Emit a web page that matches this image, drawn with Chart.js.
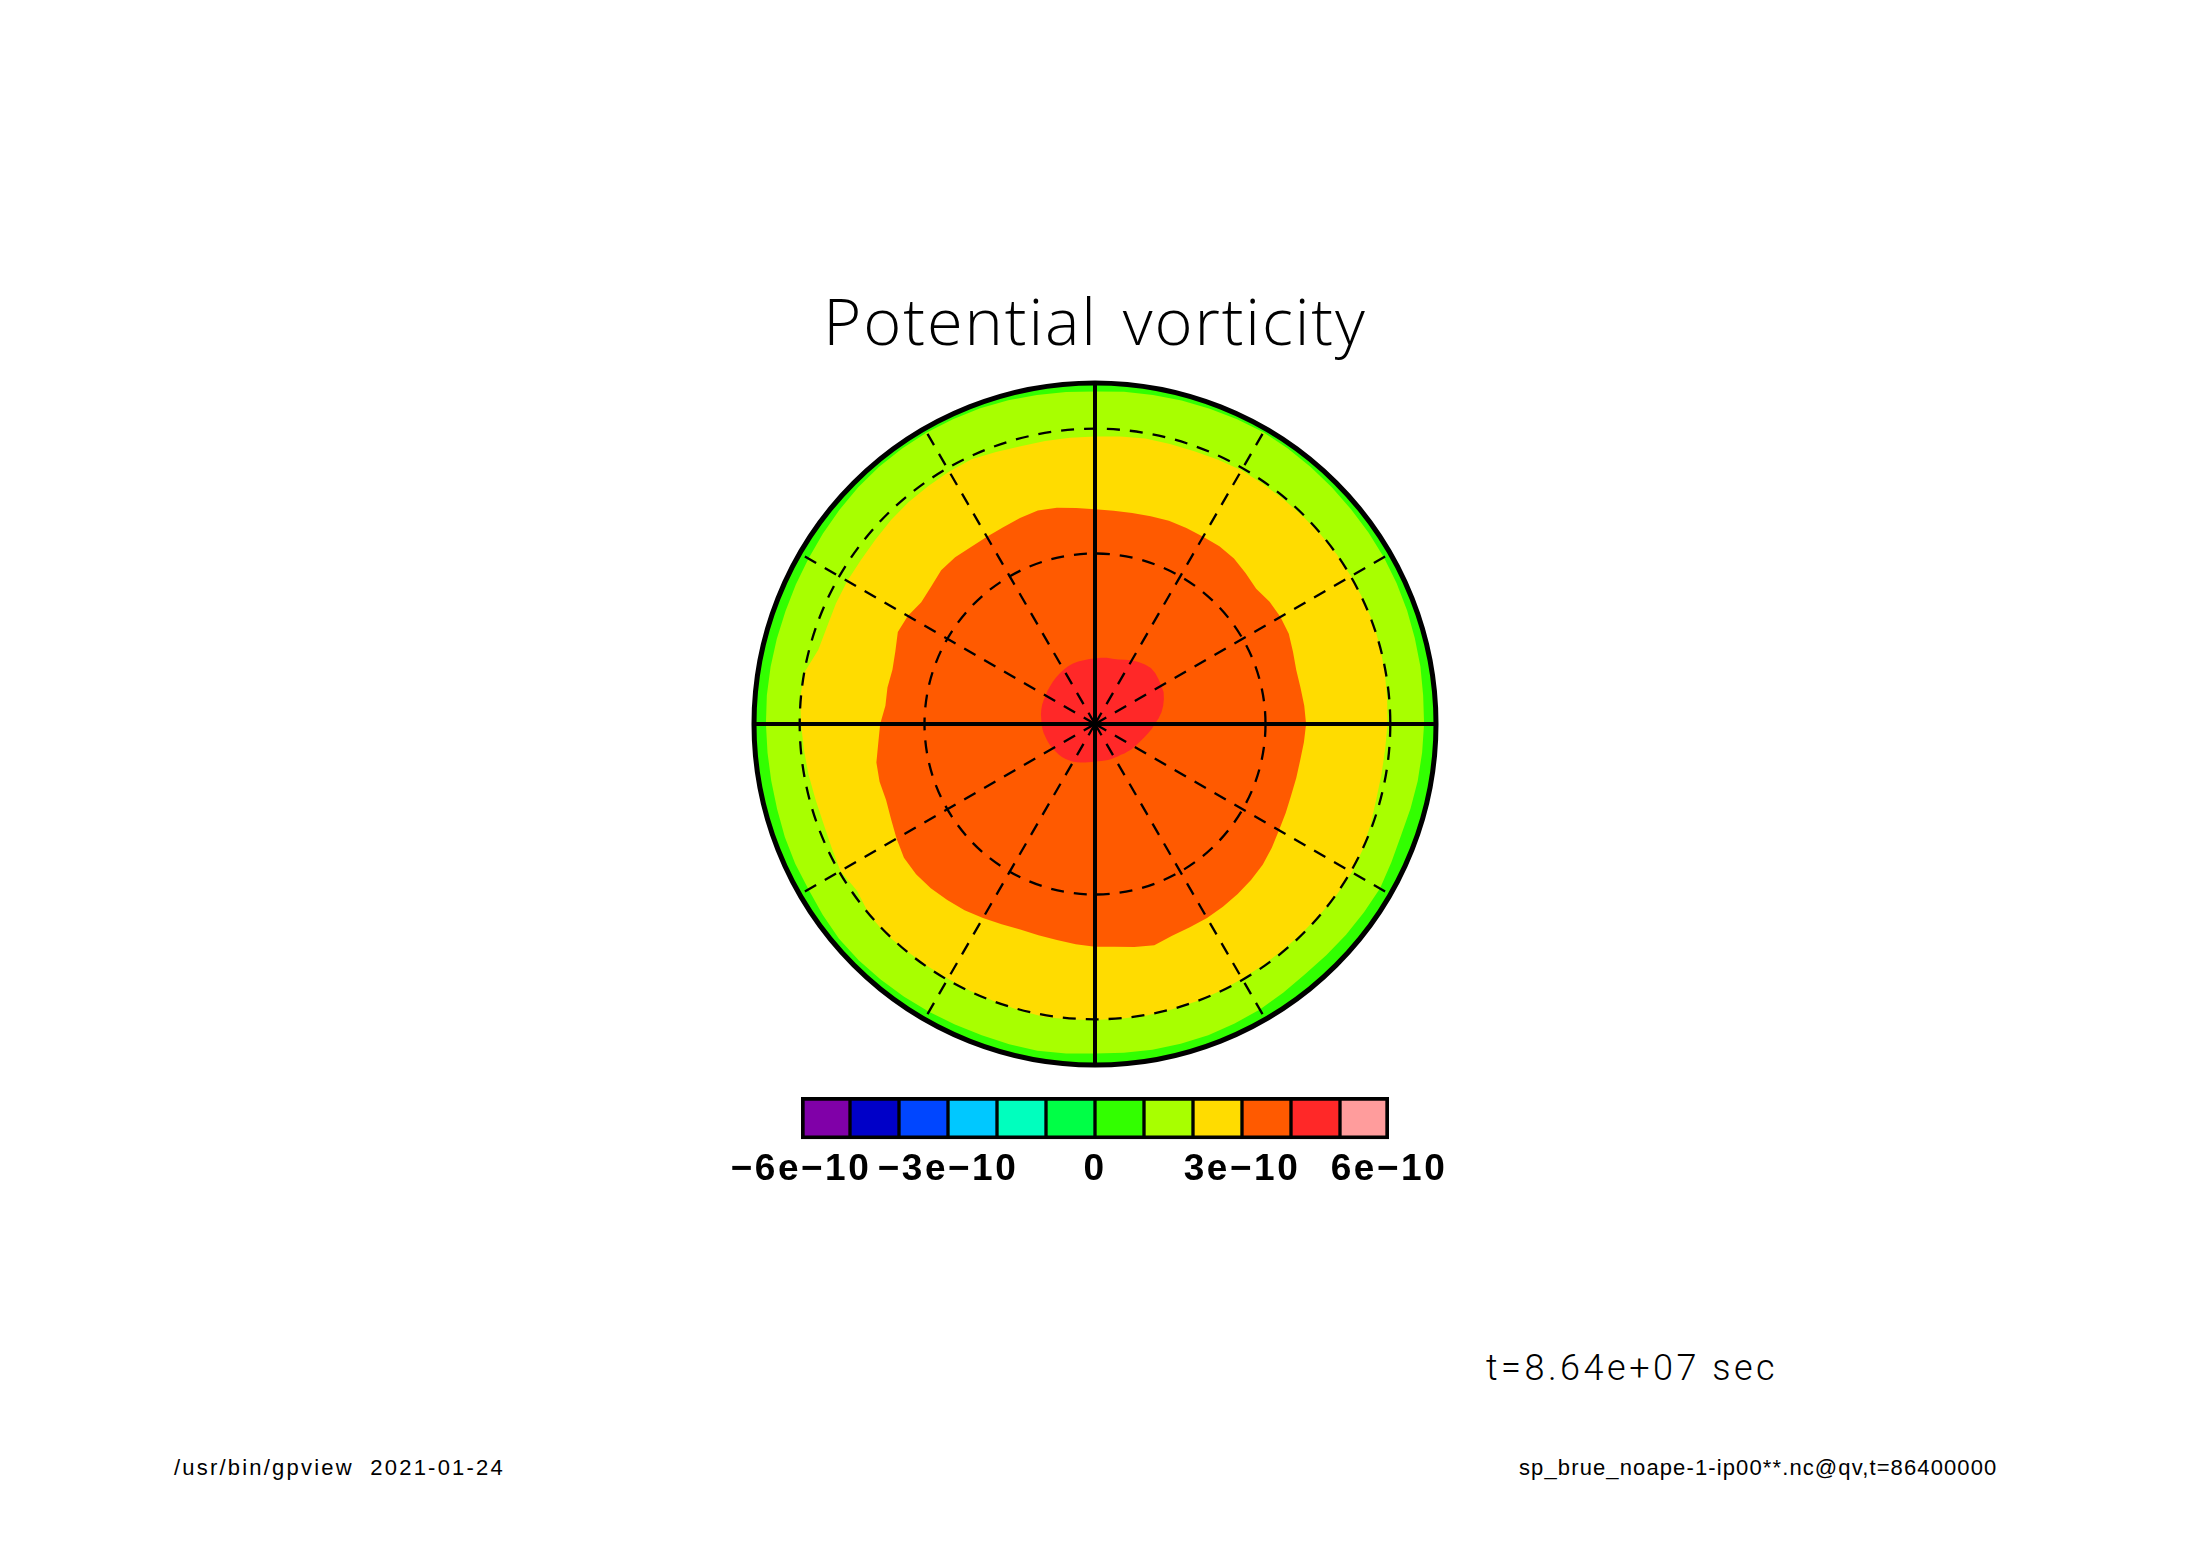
<!DOCTYPE html>
<html>
<head>
<meta charset="utf-8">
<title>Potential vorticity</title>
<script src="https://cdn.jsdelivr.net/npm/chart.js@4"></script>
<style>
    html, body { margin: 0; padding: 0; background: #fff; }
    body { position: relative; width: 2188px; height: 1546px; overflow: hidden; }
    canvas { position: absolute; }
    .note { position: absolute; color: #000; white-space: pre; font-family: "Liberation Sans", sans-serif; }
</style>
</head>
<body>
<canvas id="polar-chart" width="2188" height="1070" style="left:0;top:0"></canvas>
<canvas id="colorbar-chart" width="800" height="120" style="left:700px;top:1085px"></canvas>
<div class="note" style="left:1486px;top:1347px;font-size:36px;font-weight:300;font-family:Roboto;letter-spacing:3.5px">t=8.64e+07 sec</div>
<div class="note" style="left:174px;top:1455px;font-size:22px;letter-spacing:2.2px">/usr/bin/gpview  2021-01-24</div>
<div class="note" style="left:1519px;top:1455px;font-size:22px;letter-spacing:1.12px">sp_brue_noape-1-ip00**.nc@qv,t=86400000</div>
<script>
// angle clockwise from the top of the plot, every 5 degrees
const angles = [0, 5, 10, 15, 20, 25, 30, 35, 40, 45, 50, 55, 60, 65, 70, 75, 80, 85,
    90, 95, 100, 105, 110, 115, 120, 125, 130, 135, 140, 145, 150, 155, 160, 165, 170, 175,
    180, 185, 190, 195, 200, 205, 210, 215, 220, 225, 230, 235, 240, 245, 250, 255, 260, 265,
    270, 275, 280, 285, 290, 295, 300, 305, 310, 315, 320, 325, 330, 335, 340, 345, 350, 355];

// contour edges, as distance from the pole (rim of the disc = 1)
const edge1e10 = [1, 1, 1, 1, 1, 1, 1, 1, 1, 1, 1, 1, 1, 1, 1, 1, 1, 1,
    1, 1, 1, 1, 1, 1, 1, 1, 1, 1, 1, 1, 1, 1, 1, 1, 1, 1,
    1, 1, 1, 1, 1, 1, 1, 1, 1, 1, 1, 1, 1, 1, 1, 1, 1, 1,
    1, 1, 1, 1, 1, 1, 1, 1, 1, 1, 1, 1, 1, 1, 1, 1, 1, 1];
const edge2e10 = [.975, .978, .980, .982, .984, .986, .988, .986, .984, .982, .980, .979, .978, .976, .974, .971, .969, .966,
    .965, .963, .961, .958, .955, .959, .965, .963, .961, .959, .958, .962, .967, .969, .971, .971, .970, .968,
    .966, .970, .973, .972, .971, .972, .974, .976, .978, .980, .980, .975, .970, .970, .968, .965, .964, .964,
    .965, .966, .966, .966, .966, .968, .970, .974, .978, .982, .985, .986, .987, .986, .985, .983, .980, .977];
const edge3e10 = [.843, .846, .850, .850, .851, .855, .859, .859, .860, .862, .864, .866, .867, .867, .868, .866, .863, .860,
    .858, .854, .853, .854, .860, .867, .870, .868, .865, .863, .862, .862, .863, .865, .866, .867, .868, .868,
    .868, .870, .872, .868, .865, .864, .863, .864, .865, .870, .866, .852, .862, .853, .848, .849, .853, .857,
    .862, .868, .866, .840, .836, .838, .839, .838, .841, .846, .850, .852, .855, .857, .849, .843, .843, .843];
const edge4e10 = [.630, .628, .628, .631, .634, .634, .634, .636, .634, .625, .617, .625, .628, .627, .618, .611, .612, .616,
    .619, .615, .611, .611, .612, .617, .623, .633, .642, .647, .651, .654, .657, .658, .661, .672, .664, .656,
    .653, .648, .643, .641, .641, .648, .657, .667, .674, .681, .685, .684, .672, .660, .652, .654, .651, .638,
    .630, .617, .618, .615, .623, .638, .634, .622, .627, .638, .638, .634, .634, .637, .643, .648, .644, .636];
const edge5e10 = [.192, .195, .197, .198, .201, .208, .216, .222, .228, .232, .231, .228, .224, .222, .215, .207, .198, .187,
    .175, .167, .158, .150, .143, .138, .134, .130, .125, .122, .118, .116, .114, .113, .112, .111, .110, .110,
    .110, .112, .114, .117, .120, .124, .128, .131, .134, .137, .139, .141, .144, .146, .148, .150, .153, .155,
    .157, .158, .161, .163, .165, .166, .167, .170, .172, .175, .178, .181, .184, .187, .189, .190, .190, .191];

// sine of the colatitude of the latitude circles, and of the rim
const ringValues = [0, 0.5, 0.866, 1];

// colour bar
const levels = [-6e-10, -5e-10, -4e-10, -3e-10, -2e-10, -1e-10, 0, 1e-10, 2e-10, 3e-10, 4e-10, 5e-10, 6e-10];
const levelColors = ["#8000a8", "#0000c8", "#0046ff", "#00c8ff", "#00ffbe", "#00ff46",
    "#32ff00", "#a8ff00", "#ffdc00", "#ff5a00", "#ff2828", "#ff9c9c"];
const barTickValues = [-6e-10, -3e-10, 0, 3e-10, 6e-10];
const barTickLabels = ["−6e−10", "−3e−10", "0", "3e−10", "6e−10"];

const contours = [
    { edge: edge5e10, color: "#ff2828" },
    { edge: edge4e10, color: "#ff5a00" },
    { edge: edge3e10, color: "#ffdc00" },
    { edge: edge2e10, color: "#a8ff00" },
    { edge: edge1e10, color: "#32ff00" }
];

// the reference lettering is wider than the installed fonts
function textSpacing(letter, word) {
    return {
        id: "textSpacing",
        beforeDraw(chart) {
            chart.ctx.letterSpacing = letter;
            chart.ctx.wordSpacing = word;
        }
    };
}

function drawPolarChart() {
    const ctx = document.getElementById("polar-chart").getContext("2d");
    new Chart(ctx, {
        type: "radar",
        plugins: [textSpacing("1.9px", "6px")],
        data: {
            labels: angles,
            datasets: contours.map((contour) => ({
                data: contour.edge,
                backgroundColor: contour.color,
                borderWidth: 0,
                pointRadius: 0,
                tension: 0,
                fill: "origin"
            }))
        },
        options: {
            responsive: false,
            animation: false,
            devicePixelRatio: 1,
            layout: { padding: { left: 754, right: 752, top: 287, bottom: 5 } },
            plugins: {
                legend: { display: false },
                tooltip: { enabled: false },
                title: {
                    display: true,
                    text: "Potential vorticity",
                    color: "#000",
                    font: { family: "Open Sans", size: 65, weight: "300", lineHeight: 1.2 },
                    padding: { top: 0, bottom: 18 }
                }
            },
            scales: {
                r: {
                    min: 0,
                    max: 1,
                    afterBuildTicks: (scale) => {
                        scale.ticks = ringValues.map((value) => ({ value: value }));
                    },
                    ticks: { display: false },
                    pointLabels: { display: false },
                    grid: {
                        circular: true,
                        z: 1,
                        color: "#000",
                        lineWidth: (c) => (c.tick.value === 1 ? 5 : 2.3)
                    },
                    border: {
                        dash: (c) => (c.tick.value === 1 ? [] : [13, 10])
                    },
                    angleLines: {
                        display: true,
                        color: "#000",
                        // only every 30 degrees, the axes are solid
                        lineWidth: (c) => {
                            if (angles[c.index] % 90 === 0) return 4;
                            return angles[c.index] % 30 === 0 ? 2.3 : 0;
                        },
                        borderDash: (c) => (angles[c.index] % 90 === 0 ? [] : [13, 10])
                    }
                }
            }
        }
    });
}

function drawColorBar() {
    const ctx = document.getElementById("colorbar-chart").getContext("2d");
    new Chart(ctx, {
        type: "bar",
        plugins: [textSpacing("2.5px", "0px")],
        data: {
            labels: [""],
            datasets: levelColors.map((color, i) => ({
                data: [[levels[i], levels[i + 1]]],
                backgroundColor: color,
                borderColor: "#000",
                borderSkipped: false,
                borderWidth: {
                    top: 4,
                    bottom: 4,
                    left: i === 0 ? 4 : 2,
                    right: i === levelColors.length - 1 ? 4 : 2
                },
                barPercentage: 1,
                categoryPercentage: 1,
                grouped: false
            }))
        },
        options: {
            indexAxis: "y",
            responsive: false,
            animation: false,
            devicePixelRatio: 1,
            layout: { padding: { left: 101, right: 111, top: 12, bottom: 23.6 } },
            plugins: {
                legend: { display: false },
                tooltip: { enabled: false }
            },
            scales: {
                y: { display: false },
                x: {
                    type: "linear",
                    min: levels[0],
                    max: levels[levels.length - 1],
                    afterBuildTicks: (scale) => {
                        scale.ticks = barTickValues.map((value) => ({ value: value }));
                    },
                    grid: { display: false, drawTicks: false },
                    border: { display: false },
                    ticks: {
                        color: "#000",
                        autoSkip: false,
                        maxRotation: 0,
                        padding: 19.8,
                        // small line height, the axis box may only take half of the canvas
                        font: { family: "Liberation Sans", size: 37, weight: "bold", lineHeight: 0.584 },
                        callback: (value, index) => barTickLabels[index]
                    }
                }
            }
        }
    });
}

drawPolarChart();
drawColorBar();
</script>
</body>
</html>
